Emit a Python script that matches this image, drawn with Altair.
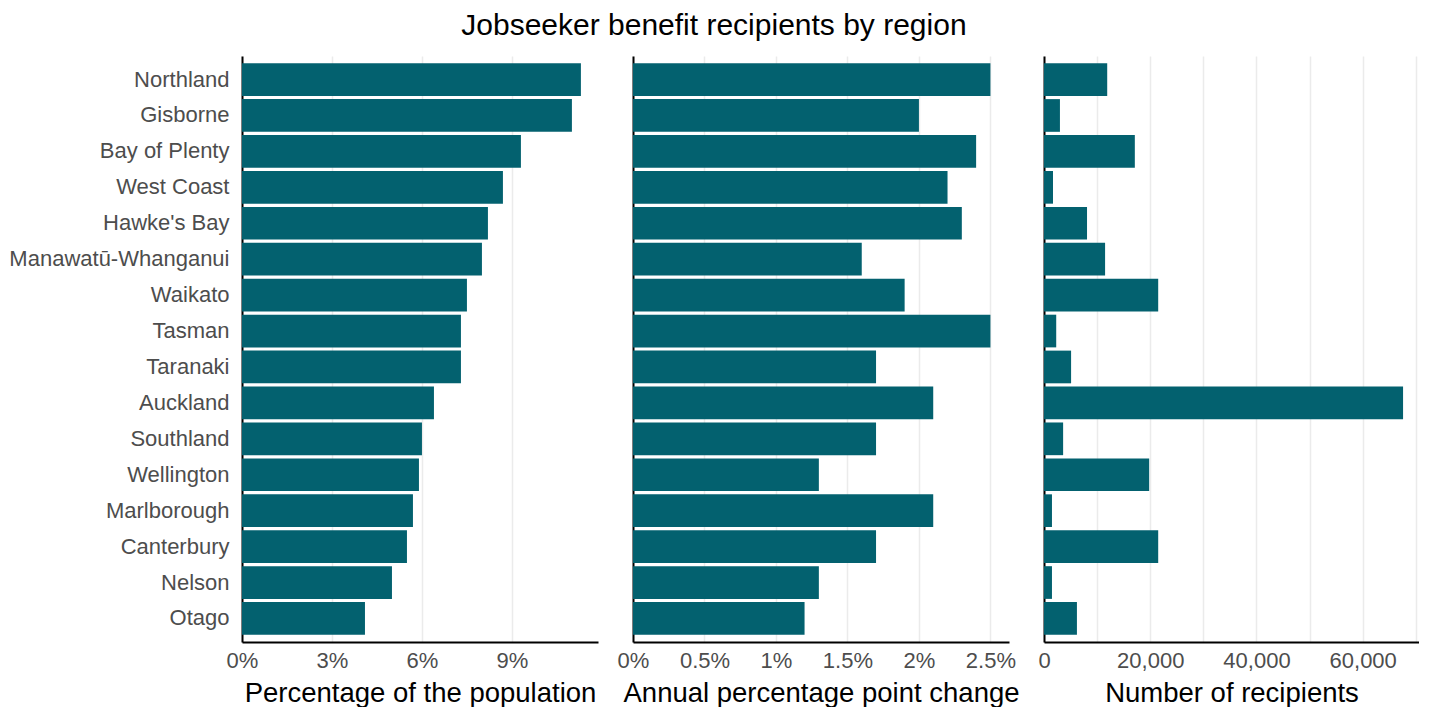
import altair as alt
import pandas as pd

regions = ["Northland", "Gisborne", "Bay of Plenty", "West Coast", "Hawke's Bay",
           "Manawatū-Whanganui", "Waikato", "Tasman", "Taranaki", "Auckland",
           "Southland", "Wellington", "Marlborough", "Canterbury", "Nelson", "Otago"]
pct_population = [11.3, 11.0, 9.3, 8.7, 8.2, 8.0, 7.5, 7.3, 7.3, 6.4, 6.0, 5.9, 5.7, 5.5, 5.0, 4.1]
annual_change = [2.5, 2.0, 2.4, 2.2, 2.3, 1.6, 1.9, 2.5, 1.7, 2.1, 1.7, 1.3, 2.1, 1.7, 1.3, 1.2]
recipients = [11900, 3000, 17100, 1700, 8100, 11500, 21500, 2300, 5100, 67600,
              3600, 19800, 1500, 21500, 1500, 6200]

df = pd.DataFrame({
    "region": regions,
    "pct": pct_population,
    "change": annual_change,
    "n": recipients,
})

BAR = "#03616f"
FONT = "Liberation Sans"

yscale = alt.Scale(paddingInner=0.09, paddingOuter=0.2)

def xaxis(title, values, expr):
    return alt.Axis(title=title, values=values, labelExpr=expr, ticks=False,
                    grid=True, gridColor="#ebebeb", gridWidth=1.5,
                    domainColor="black", domainWidth=2,
                    labelColor="#4d4d4d", labelFontSize=22, labelPadding=8,
                    labelOverlap=False, labelFlush=False,
                    titleFontSize=27.5, titleFontWeight="normal", titleColor="black",
                    titlePadding=8)

def yaxis(show_labels):
    return alt.Axis(title=None, ticks=False, labels=show_labels, grid=False,
                    domainColor="black", domainWidth=2,
                    labelColor="#4d4d4d", labelFontSize=22, labelPadding=13,
                    labelLimit=400)

H = 586

p1 = alt.Chart(df).mark_bar(color=BAR).encode(
    x=alt.X("pct:Q", scale=alt.Scale(domain=[0, 11.87], nice=False),
            axis=xaxis("Percentage of the population", [0, 3, 6, 9], "datum.value + '%'")),
    y=alt.Y("region:N", sort=regions, scale=yscale, axis=yaxis(True)),
).properties(width=356, height=H)

p2 = alt.Chart(df).mark_bar(color=BAR).encode(
    x=alt.X("change:Q", scale=alt.Scale(domain=[0, 2.63], nice=False),
            axis=xaxis("Annual percentage point change", [0, 0.5, 1, 1.5, 2, 2.5],
                       "datum.value + '%'")),
    y=alt.Y("region:N", sort=regions, scale=yscale, axis=yaxis(False)),
).properties(width=376, height=H)

p3 = alt.Chart(df).mark_bar(color=BAR).encode(
    x=alt.X("n:Q", scale=alt.Scale(domain=[0, 70600], nice=False),
            axis=xaxis("Number of recipients",
                       [0, 10000, 20000, 30000, 40000, 50000, 60000, 70000],
                       "datum.value % 20000 == 0 ? format(datum.value, ',') : ''")),
    y=alt.Y("region:N", sort=regions, scale=yscale, axis=yaxis(False)),
).properties(width=375, height=H)

chart = alt.hconcat(p1, p2, p3, spacing=35, bounds="flush").properties(
    title=alt.TitleParams("Jobseeker benefit recipients by region", fontSize=30,
                          fontWeight="normal", color="black", anchor="middle",
                          offset=15, font=FONT),
    padding={"left": 0, "top": 3, "right": 0, "bottom": 0},
).configure(font=FONT).configure_view(stroke=None)

chart.save("out.html", embed_options={"renderer": "svg", "actions": False})
